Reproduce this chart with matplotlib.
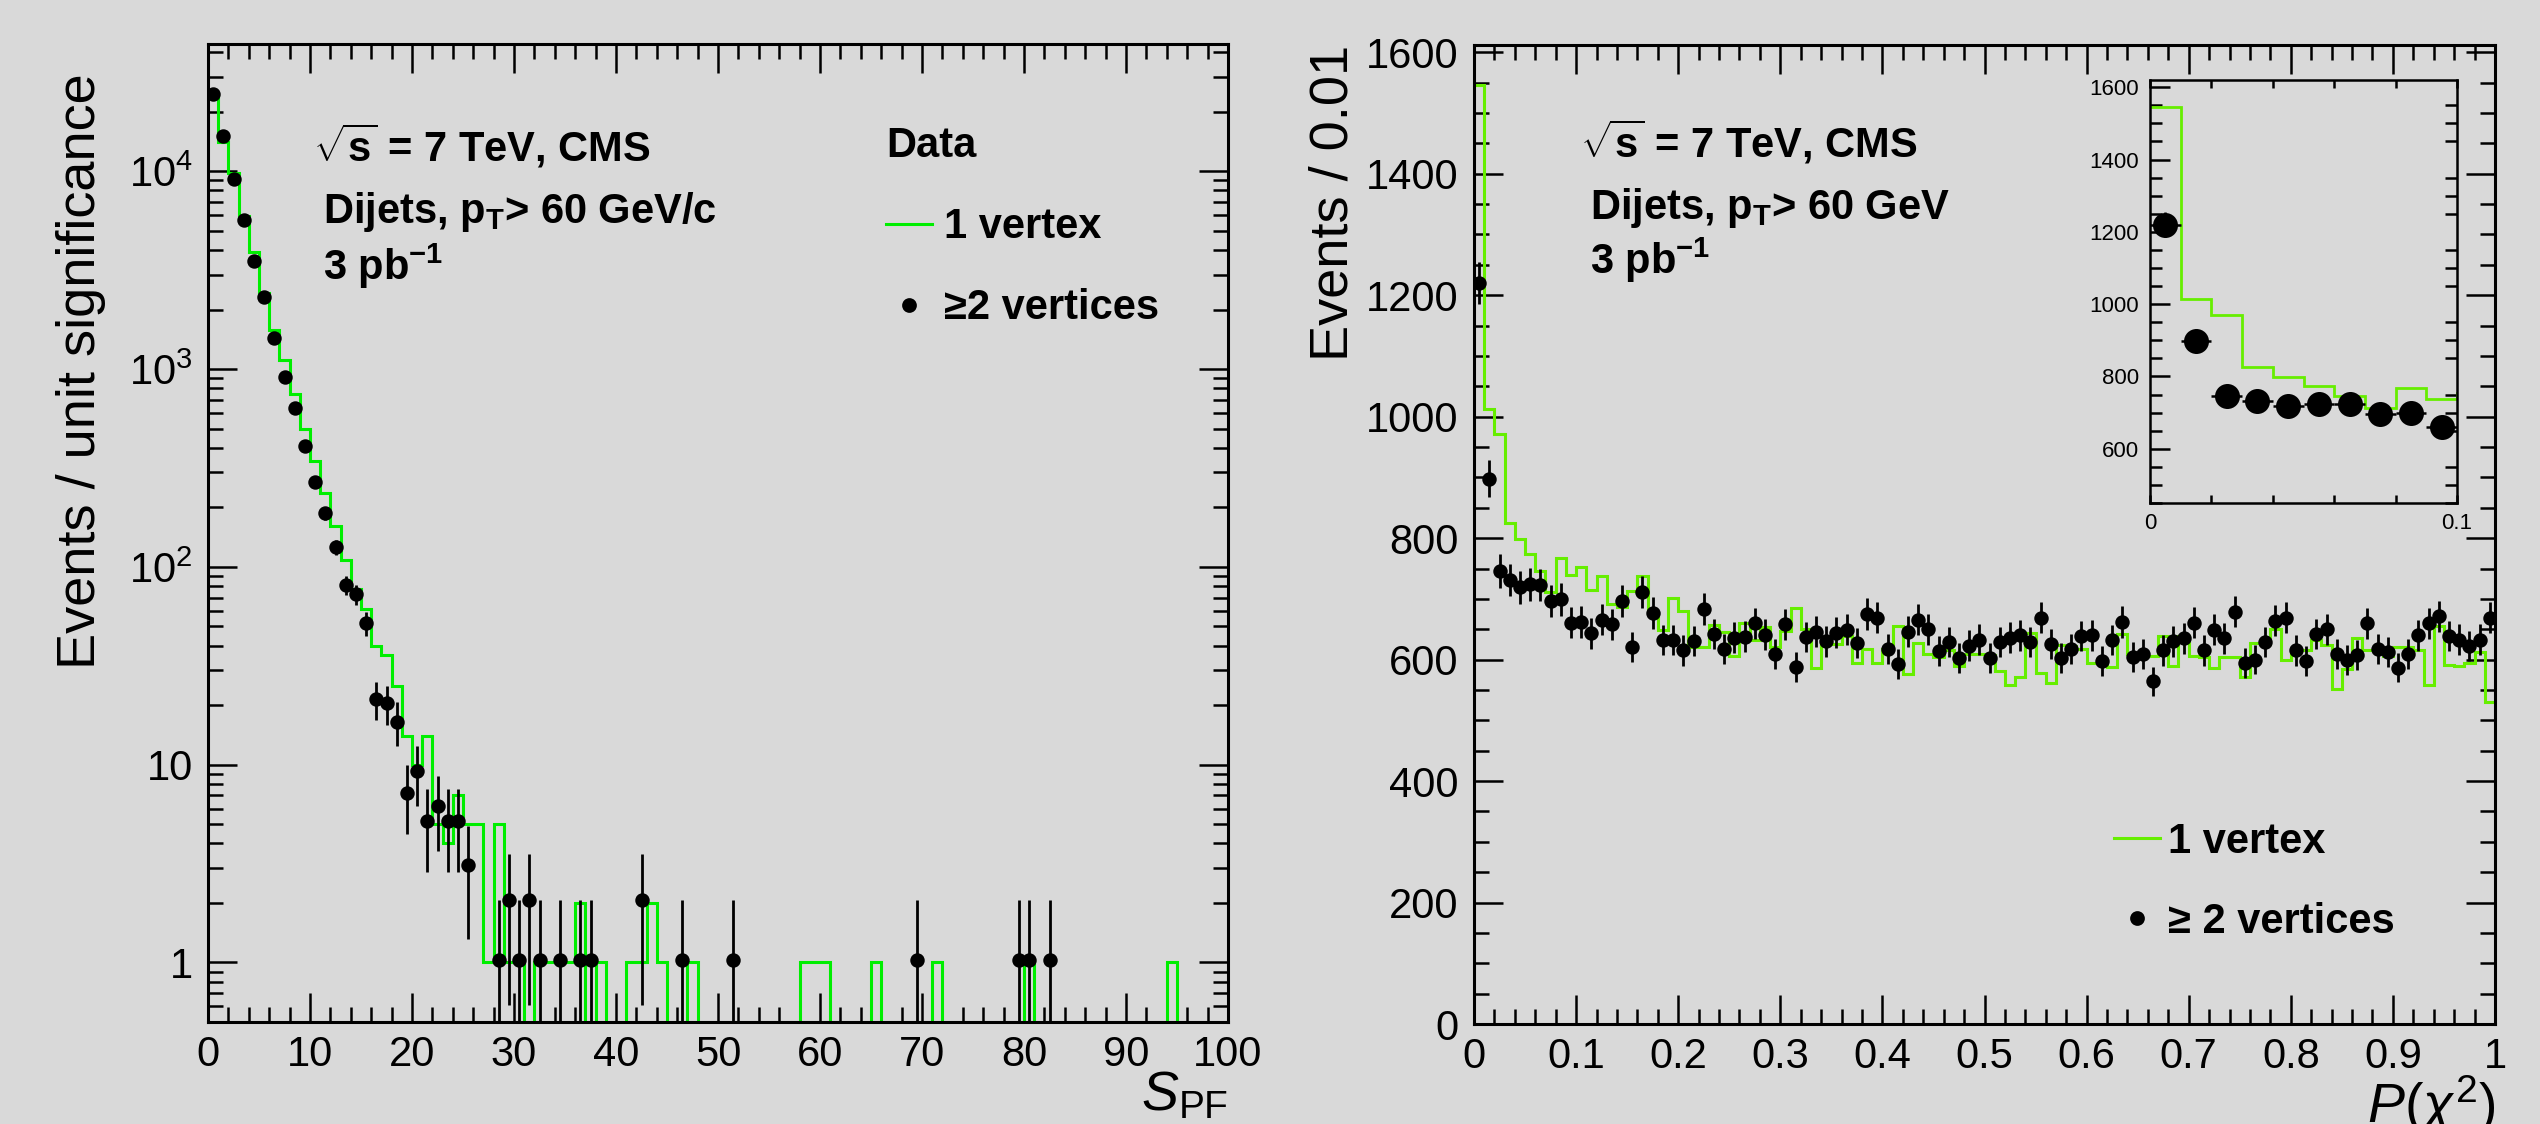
import numpy as np
import matplotlib.pyplot as plt
from matplotlib.lines import Line2D
from matplotlib.ticker import (FixedLocator, FixedFormatter, LogLocator,
                               MultipleLocator, NullFormatter, FuncFormatter)

plt.rcParams['font.family'] = ['Liberation Sans', 'DejaVu Sans']
plt.rcParams['mathtext.fontset'] = 'custom'
plt.rcParams['mathtext.rm'] = 'Liberation Sans'
plt.rcParams['mathtext.it'] = 'Liberation Sans:italic'
plt.rcParams['mathtext.bf'] = 'Liberation Sans:bold'

W, H, DPI = 2540, 1124, 200
BG = '#d9d9d9'
GREEN_L = '#00ee00'
GREEN_R = '#66ee00'

# ---------------- left panel: S_PF, bins of width 1 ----------------
sig_edges = np.arange(0, 101, 1)
sig_one_vtx = [24000, 14000, 9850, 5940, 3910, 2420, 1575, 1110, 748, 498,
               344, 237, 160, 108, 77, 61, 40, 36, 25, 14,
               10, 14, 5, 4, 7, 5, 5, 1, 5, 1,
               1, 0, 1, 1, 1, 1, 2, 0, 1, 0,
               0, 1, 1, 2, 1, 0, 0, 1, 0, 0,
               0, 0, 0, 0, 0, 0, 0, 0, 1, 1,
               1, 0, 0, 0, 0, 1, 0, 0, 0, 0,
               0, 1, 0, 0, 0, 0, 0, 0, 0, 0,
               1, 0, 0, 0, 0, 0, 0, 0, 0, 0,
               0, 0, 0, 0, 1, 0, 0, 0, 0, 0]
sig_two_x = [0.5, 1.5, 2.5, 3.5, 4.5, 5.5, 6.5, 7.5, 8.5, 9.5,
             10.5, 11.5, 12.5, 13.5, 14.5, 15.5, 16.5, 17.5, 18.5, 19.5,
             20.5, 21.5, 22.5, 23.5, 24.5, 25.5, 28.5, 29.5, 30.5, 31.5,
             32.5, 34.5, 36.5, 37.5, 42.5, 46.5, 51.5, 69.5, 79.5, 80.5, 82.5]
sig_two_vtx = [24500, 15000, 9100, 5680, 3520, 2310, 1430, 916, 635, 410,
               268, 187, 126, 81, 72.7, 52, 21.5, 20.5, 16.5, 7.2,
               9.3, 5.2, 6.2, 5.2, 5.2, 3.1, 1.03, 2.07, 1.03, 2.07,
               1.03, 1.03, 1.03, 1.03, 2.07, 1.03, 1.03, 1.03, 1.03, 1.03, 1.03]
sig_norm = 1.035   # scale of the >=2 vertex sample to the 1 vertex one

# ---------------- right panel: P(chi2), bins of width 0.01 ----------------
p_edges = np.linspace(0, 1, 101)
p_one_vtx = [1546, 1013, 971, 825, 799, 774, 746, 712, 768, 739,
             753, 714, 738, 692, 686, 713, 737, 677, 649, 701,
             680, 621, 621, 657, 646, 606, 661, 632, 654, 621,
             647, 685, 651, 587, 629, 625, 639, 595, 618, 595,
             617, 656, 577, 628, 610, 604, 615, 590, 609, 609,
             607, 582, 559, 572, 643, 578, 562, 624, 623, 617,
             594, 599, 588, 642, 609, 607, 606, 639, 590, 639,
             606, 605, 587, 604, 604, 572, 628, 625, 651, 599,
             616, 616, 633, 624, 552, 585, 636, 616, 616, 606,
             620, 620, 615, 558, 656, 591, 590, 595, 613, 531]
p_two_vtx = [1220, 898, 746, 731, 719, 724, 723, 697, 699, 661,
             662, 643, 666, 658, 697, 621, 711, 677, 632, 632,
             615, 631, 683, 642, 618, 636, 638, 660, 641, 609,
             658, 588, 637, 646, 630, 644, 649, 627, 675, 669,
             617, 593, 646, 666, 650, 614, 629, 602, 623, 633,
             602, 629, 636, 640, 629, 669, 626, 603, 618, 639,
             640, 598, 632, 662, 604, 610, 564, 615, 630, 635,
             661, 615, 649, 635, 679, 594, 600, 629, 664, 669,
             615, 598, 642, 650, 610, 599, 607, 660, 617, 613,
             587, 610, 640, 660, 671, 639, 633, 622, 633, 669]


def fx(px):
    return px / W


def fy(py):
    return 1 - py / H


def style_axes(ax, lw=1.1, major=10.5, minor=5.3, labelsize=15, pad=5.5):
    ax.set_facecolor(BG)
    for sp in ax.spines.values():
        sp.set_linewidth(lw)
    ax.tick_params(which='both', direction='in', top=True, right=True,
                   width=0.9, labelsize=labelsize, pad=pad)
    ax.tick_params(which='major', length=major)
    ax.tick_params(which='minor', length=minor)


fig = plt.figure(figsize=(W / DPI, H / DPI), dpi=DPI, facecolor=BG)

# ---------------- left ----------------
ax1 = fig.add_axes([fx(208), fy(1022), fx(1020), 978 / H])
style_axes(ax1)
one = np.array(sig_one_vtx, dtype=float)
ax1.stairs(np.where(one > 0, one, 1e-3), sig_edges, baseline=None,
           color=GREEN_L, lw=1.1, zorder=2)
y2 = np.array(sig_two_vtx)
err = np.sqrt(y2 * sig_norm)
ax1.errorbar(sig_two_x, y2, yerr=[np.minimum(err, y2 * 0.999), err], xerr=0.5,
             fmt='o', color='black', ms=4.2, elinewidth=1.0, capsize=0, zorder=3)
ax1.set_yscale('log')
ax1.set_xlim(0, 100)
ax1.set_ylim(0.5, 4.4e4)
ax1.xaxis.set_major_locator(MultipleLocator(10))
ax1.xaxis.set_minor_locator(MultipleLocator(2))
ax1.xaxis.set_major_formatter(FuncFormatter(lambda v, p: '%g' % v))
ax1.yaxis.set_major_locator(FixedLocator([1, 10, 100, 1e3, 1e4]))
ax1.yaxis.set_major_formatter(FixedFormatter(['1', '10', '$10^{2}$', '$10^{3}$', '$10^{4}$']))
ax1.yaxis.set_minor_locator(LogLocator(subs=np.arange(2, 10)))
ax1.yaxis.set_minor_formatter(NullFormatter())
ax1.tick_params(axis='x', pad=4.5)
ax1.text(-0.1245, 0.970, 'Events / unit significance', transform=ax1.transAxes,
         rotation=90, ha='center', va='top', fontsize=19.5)
ax1.text(1.0, -0.049, r'$S_{\rm PF}$', transform=ax1.transAxes,
         ha='right', va='top', fontsize=20)

fig.text(fx(313), fy(162), r'$\sqrt{\mathbf{s}}$ = 7 TeV, CMS', fontsize=15, fontweight='bold', va='baseline')
fig.text(fx(323), fy(223), r'Dijets, $\mathbf{p_{T}}$> 60 GeV/c', fontsize=15, fontweight='bold', va='baseline')
fig.text(fx(323), fy(280), r'3 $\mathbf{pb^{-1}}$', fontsize=15, fontweight='bold', va='baseline')

ax1.legend([Line2D([], [], color=GREEN_L, lw=1.1),
            Line2D([], [], color='black', marker='o', ls='none', ms=4.3)],
           ['1 vertex', '\u22652 vertices'], title='Data',
           prop={'weight': 'bold', 'size': 15},
           title_fontproperties={'weight': 'bold', 'size': 15},
           frameon=False, handlelength=1.1, handletextpad=0.28,
           labelspacing=0.98, borderpad=0.25, borderaxespad=0,
           alignment='left', loc='upper left',
           bbox_to_anchor=(fx(876), fy(116)), bbox_transform=fig.transFigure)

# ---------------- right ----------------
ax2 = fig.add_axes([fx(1474), fy(1024), fx(1021), 979 / H])
style_axes(ax2)
p_centers = (p_edges[:-1] + p_edges[1:]) / 2
p2 = np.array(p_two_vtx, dtype=float)
ax2.stairs(p_one_vtx, p_edges, baseline=None, color=GREEN_R, lw=1.1, zorder=2)
ax2.errorbar(p_centers, p2, yerr=np.sqrt(p2), xerr=0.005, fmt='o', color='black',
             ms=4.2, elinewidth=1.0, capsize=0, zorder=3)
ax2.set_xlim(0, 1)
ax2.set_ylim(0, 1612)
ax2.xaxis.set_major_locator(MultipleLocator(0.1))
ax2.xaxis.set_minor_locator(MultipleLocator(0.02))
ax2.yaxis.set_major_locator(MultipleLocator(200))
ax2.yaxis.set_minor_locator(MultipleLocator(50))
ax2.xaxis.set_major_formatter(FuncFormatter(lambda v, p: '%g' % round(v, 2)))
ax2.yaxis.set_major_formatter(FuncFormatter(lambda v, p: '%g' % v))
ax2.tick_params(axis='x', pad=4.5)
ax2.text(-0.138, 1.0, 'Events / 0.01', transform=ax2.transAxes,
         rotation=90, ha='center', va='top', fontsize=19.5)
ax2.text(1.0, -0.050, r'$P(\chi^{2})$', transform=ax2.transAxes,
         ha='right', va='top', fontsize=20)

fig.text(fx(1580), fy(158), r'$\sqrt{\mathbf{s}}$ = 7 TeV, CMS', fontsize=15, fontweight='bold', va='baseline')
fig.text(fx(1590), fy(219), r'Dijets, $\mathbf{p_{T}}$> 60 GeV', fontsize=15, fontweight='bold', va='baseline')
fig.text(fx(1590), fy(274), r'3 $\mathbf{pb^{-1}}$', fontsize=15, fontweight='bold', va='baseline')

ax2.legend([Line2D([], [], color=GREEN_R, lw=1.1),
            Line2D([], [], color='black', marker='o', ls='none', ms=4.3)],
           ['1 vertex', '\u2265 2 vertices'],
           prop={'weight': 'bold', 'size': 15},
           frameon=False, handlelength=1.1, handletextpad=0.2,
           labelspacing=0.95, borderpad=0, borderaxespad=0,
           alignment='left', loc='upper left',
           bbox_to_anchor=(fx(2114), fy(822)), bbox_transform=fig.transFigure)

# ---------------- inset: first ten bins ----------------
axi = fig.add_axes([fx(2150), fy(503), fx(307), 423 / H])
style_axes(axi, lw=0.9, major=7.2, minor=4.3, labelsize=8, pad=4)
axi.tick_params(right=False)
axi.tick_params(axis='x', which='both', length=3, pad=3.5)
axi.stairs(p_one_vtx, p_edges, baseline=None, color=GREEN_R, lw=1.0, zorder=2)
axi.errorbar(p_centers, p2, yerr=np.sqrt(p2), xerr=0.005, fmt='o', color='black',
             ms=8, elinewidth=0.9, capsize=0, zorder=3)
axi.set_xlim(0, 0.1)
axi.set_ylim(450, 1620)
axi.xaxis.set_major_locator(FixedLocator([0, 0.1]))
axi.xaxis.set_minor_locator(MultipleLocator(0.02))
axi.xaxis.set_major_formatter(FuncFormatter(lambda v, p: '%g' % v))
axi.yaxis.set_major_locator(MultipleLocator(200))
axi.yaxis.set_minor_locator(MultipleLocator(50))
axi.yaxis.set_major_formatter(FuncFormatter(lambda v, p: '%g' % v))

fig.savefig('out.png', dpi=DPI, facecolor=BG)
